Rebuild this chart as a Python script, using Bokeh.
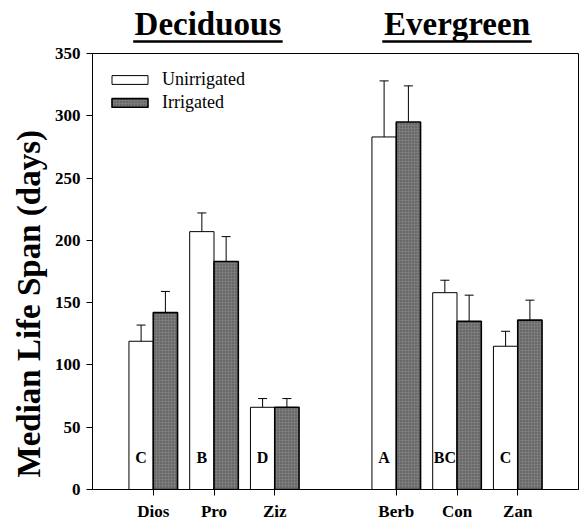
from bokeh.plotting import figure
from bokeh.models import (ColumnDataSource, Range1d, FixedTicker, Whisker, TeeHead,
                          Legend, LegendItem, LabelSet, Title)
from bokeh.layouts import column
from bokeh.core.properties import value
from bokeh.embed import file_html
from bokeh.resources import INLINE

# ---- data ----
deciduous = ["Dios", "Pro", "Ziz"]
evergreen = ["Berb", "Con", "Zan"]
species = deciduous + evergreen
unirrigated = [119, 207, 66, 283, 158, 115]
unirrigated_lo = [106, 192, 59, 238, 148, 104]
unirrigated_hi = [132, 222, 73, 328, 168, 127]
irrigated = [142, 183, 66, 295, 135, 136]
irrigated_lo = [124, 163, 59, 266, 116, 121]
irrigated_hi = [159, 203, 73, 324, 156, 152]
letters = ["C", "B", "D", "A", "BC", "C"]
y_ticks = [0, 50, 100, 150, 200, 250, 300, 350]
group_titles = ["Deciduous", "Evergreen"]
y_title = "Median Life Span (days)"

SERIF = "Liberation Serif"

# category positions: deciduous 1..3, gap, evergreen 5..7
pos = [i + 1 for i in range(len(deciduous))] + \
      [len(deciduous) + 2 + i for i in range(len(evergreen))]
bw = 0.4
xu = [p_ - bw / 2 for p_ in pos]
xi = [p_ + bw / 2 for p_ in pos]

src_u = ColumnDataSource(dict(x=xu, top=unirrigated, lo=unirrigated_lo, hi=unirrigated_hi,
                              let=letters, ly=[21] * len(letters)))
src_i = ColumnDataSource(dict(x=xi, top=irrigated, lo=irrigated_lo, hi=irrigated_hi))

TOP_H = 44
W = 582
H = 526

p = figure(width=W, height=H - TOP_H, output_backend="svg", toolbar_location=None,
           x_range=Range1d(0, 8), y_range=Range1d(0, 350), title=None)
p.min_border_left = 92
p.min_border_right = 4
p.min_border_top = 9
p.min_border_bottom = 37
p.xgrid.visible = False
p.ygrid.visible = False
p.outline_line_color = "black"
p.outline_line_width = 1
p.background_fill_color = "white"
p.border_fill_color = "white"

r_u = p.vbar(x="x", top="top", width=bw, bottom=0, source=src_u,
             fill_color="white", line_color="black", line_width=1)
r_i = p.vbar(x="x", top="top", width=bw, bottom=0, source=src_i,
             fill_color="#7c7c7c", line_color="black", line_width=1.6,
             hatch_pattern="dot", hatch_color="#2a2a2a", hatch_scale=3, hatch_weight=1,
             hatch_alpha=0.6)

for src in (src_u, src_i):
    w = Whisker(base="x", lower="lo", upper="hi", source=src,
                line_color="black", line_width=1,
                lower_head=TeeHead(size=9, line_color="black", line_width=1),
                upper_head=TeeHead(size=9, line_color="black", line_width=1))
    p.add_layout(w)

lab = LabelSet(x="x", y="ly", text="let", source=src_u, text_align="center",
               text_baseline="alphabetic", text_font=SERIF, text_font_size="16px",
               text_font_style="bold", text_color="black")
p.add_layout(lab)

# axes
p.xaxis.ticker = FixedTicker(ticks=pos)
p.xaxis.major_label_overrides = {p_: s for p_, s in zip(pos, species)}
p.yaxis.ticker = FixedTicker(ticks=y_ticks)
for ax in (p.xaxis[0], p.yaxis[0]):
    ax.minor_tick_line_color = None
    ax.major_tick_in = 0
    ax.major_tick_out = 6
    ax.axis_line_color = "black"
    ax.major_tick_line_color = "black"
    ax.major_label_text_font = SERIF
    ax.major_label_text_font_size = "17px"
    ax.major_label_text_font_style = "bold"
    ax.major_label_text_color = "black"
p.yaxis.major_label_standoff = 6
p.xaxis.major_label_standoff = 6

# y-axis title as a left-side Title, starting a little above the frame bottom
p.add_layout(Title(text=y_title, align="left", offset=12, text_font=SERIF,
                   text_font_size="33px", text_font_style="bold", text_color="black",
                   standoff=10), "left")

legend = Legend(items=[LegendItem(label="Unirrigated", renderers=[r_u]),
                       LegendItem(label="Irrigated", renderers=[r_i])],
                location="top_left")
legend.margin = 0
legend.padding = 15
legend.spacing = 0
legend.glyph_width = 45
legend.glyph_height = 11
legend.label_height = 23
legend.label_standoff = 10
legend.label_text_font = SERIF
legend.label_text_font_size = "18px"
legend.label_text_color = "black"
legend.border_line_alpha = 0
legend.background_fill_alpha = 0
p.add_layout(legend)

# ---- header strip with the two underlined group titles ----
t = figure(width=W, height=TOP_H, output_backend="svg", toolbar_location=None,
           x_range=p.x_range, y_range=Range1d(0, TOP_H), title=None)
t.min_border_left = 92
t.min_border_right = 4
t.min_border_top = 0
t.min_border_bottom = 0
t.axis.visible = False
t.grid.visible = False
t.outline_line_color = None
t.border_fill_color = "white"

d_center = (pos[0] + pos[len(deciduous) - 1]) / 2 - 0.1
e_center = (pos[len(deciduous)] + pos[-1]) / 2
centers = [d_center, e_center]
half = 1.23
tsrc = ColumnDataSource(dict(x=centers, text=group_titles,
                             x0=[c - half for c in centers], x1=[c + half for c in centers]))
t.text(x="x", y=20.5, text="text", source=tsrc, text_align=value("center"),
       text_baseline=value("middle"), text_font=value(SERIF), text_font_size=value("33px"),
       text_font_style=value("bold"), text_color="black")
t.segment(x0="x0", x1="x1", y0=3, y1=3, source=tsrc,
          line_color="black", line_width=2.5)

layout = column(t, p, spacing=0)
open("out.html", "w").write(file_html(layout, INLINE))
